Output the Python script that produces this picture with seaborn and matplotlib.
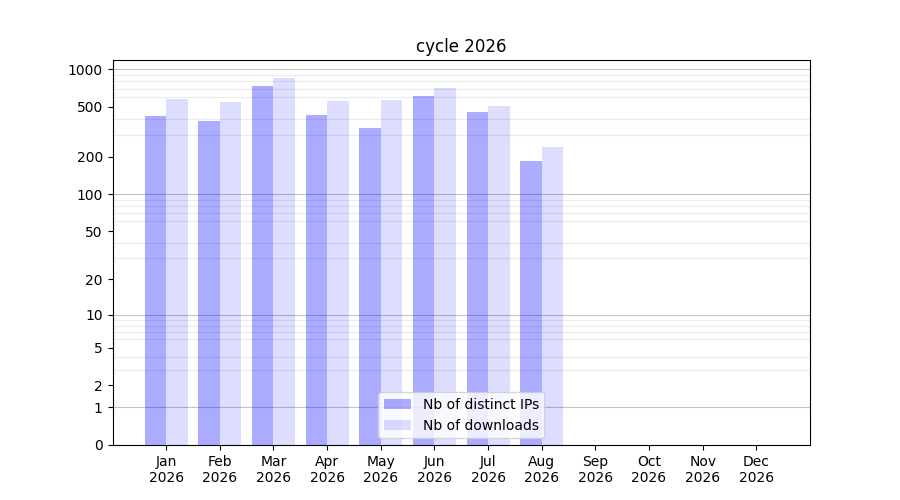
import matplotlib
matplotlib.use("Agg")
import matplotlib.pyplot as plt
import numpy as np
import pandas as pd
import seaborn as sns
from matplotlib.ticker import FixedLocator

months = ["Jan", "Feb", "Mar", "Apr", "May", "Jun",
          "Jul", "Aug", "Sep", "Oct", "Nov", "Dec"]
year = 2026
distinct_ips = [422, 384, 732, 429, 338, 609, 454, 184, 0, 0, 0, 0]
downloads = [576, 545, 848, 556, 566, 706, 507, 238, 0, 0, 0, 0]
series_names = ["Nb of distinct IPs", "Nb of downloads"]
y_ticks = [0, 1, 2, 5, 10, 20, 50, 100, 200, 500, 1000]


def fwd(y):
    return np.log10(np.asarray(y, dtype=float) + 1)


def inv(y):
    return 10 ** np.asarray(y, dtype=float) - 1


labels = [f"{m}\n{year}" for m in months]
df = pd.DataFrame({
    "month": labels * 2,
    "value": distinct_ips + downloads,
    "series": [series_names[0]] * len(labels) + [series_names[1]] * len(labels),
})

fig, ax = plt.subplots(figsize=(9, 5), dpi=100)
sns.barplot(data=df, x="month", y="value", hue="series", order=labels,
            hue_order=series_names, width=0.8, ax=ax, legend=False)

colors = [(0, 0, 1, 0.33), (0, 0, 1, 0.135)]
for cont, col in zip(ax.containers, colors):
    for bar in cont:
        bar.set_facecolor(col)
        bar.set_edgecolor("none")

ax.set_yscale("function", functions=(fwd, inv))
ax.set_ylim(0, max(downloads) * 1.4)
ax.set_xlim(-1, len(labels))

ax.yaxis.set_major_locator(FixedLocator(y_ticks))
ax.set_yticklabels([str(t) for t in y_ticks])

# light lines at every 2..9 multiple, darker ones at each decade
minor = [m * 10 ** k for k in range(3) for m in range(2, 10)]
ax.yaxis.set_minor_locator(FixedLocator(minor))
ax.tick_params(axis="y", which="minor", length=0)
ax.grid(False)
ax.grid(axis="y", which="minor", color="#ebebeb", linewidth=0.8)
for d in [1, 10, 100, 1000]:
    ax.axhline(d, color="#c4c4c4", linewidth=0.8, zorder=0.5)
ax.set_axisbelow(True)

ax.set_xlabel("")
ax.set_ylabel("")
ax.set_title(f"cycle {year}")
ax.legend(ax.containers, series_names, loc="lower center")

fig.savefig("out.png", dpi=100)
